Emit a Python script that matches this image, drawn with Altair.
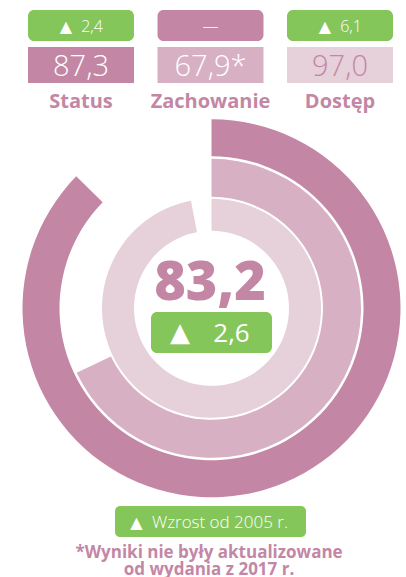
import math
import altair as alt
import pandas as pd

# ---- data ----
categories = ["Status", "Zachowanie", "Dostęp"]
scores = [87.3, 67.9, 97.0]
changes = [2.4, None, 6.1]
value_suffix = ["", "*", ""]
overall_score = [83.2]
overall_change = [2.6]
legend_text = ["Wzrost od 2005 r."]
footnote_lines = ["*Wyniki nie były aktualizowane", "od wydania z 2017 r."]
TRI = "▲"

# ---- styles ----
ring_colors = ["#C387A5", "#D8B0C4", "#E6D0DA"]
value_text_colors = ["#FFFFFF", "#FFFFFF", "#C387A5"]
GREEN = "#85C65A"
PINK = "#C387A5"
FONT = "Open Sans"
FONT_TRI = "DejaVu Sans"
CX, CY = 211.5, 308.3
ring_radii = [(152, 189), (111.5, 149.5), (77.5, 109.5)]

df = pd.DataFrame({"cat": categories, "score": scores, "change": changes,
                   "suffix": value_suffix, "start": [0.0] * len(categories)})

theta_scale = alt.Scale(domain=[0, 100], range=[0, 2 * math.pi])
layers = []
for cat, color, (r_in, r_out) in zip(categories, ring_colors, ring_radii):
    layers.append(
        alt.Chart(df).transform_filter(alt.datum.cat == cat)
        .mark_arc(radius=r_out, radius2=r_in, color=color)
        .encode(theta=alt.Theta("start:Q", scale=theta_scale, stack=None),
                theta2="score:Q", x=alt.value(CX), y=alt.value(CY))
    )

x_band = alt.X("cat:N", scale=alt.Scale(type="band", domain=categories, range=[28, 393],
                                       paddingInner=0.1815, paddingOuter=0), axis=None)

valid = alt.expr.isValid(alt.datum.change)
delta_box = alt.Chart(df).mark_rect(cornerRadius=6).encode(
    x=x_band, y=alt.value(10), y2=alt.value(41),
    color=alt.when(valid).then(alt.value(GREEN)).otherwise(alt.value(PINK)))
delta_tri = alt.Chart(df).transform_filter(valid).transform_calculate(lab=f"'{TRI}'").mark_text(
    font=FONT_TRI, fontSize=16, color="white", baseline="alphabetic", dx=-15).encode(
    x=x_band, y=alt.value(32), text="lab:N")
delta_num = alt.Chart(df).transform_filter(valid).transform_calculate(
    lab="replace(format(datum.change, '.1f'), '.', ',')"
).mark_text(font=FONT, fontSize=16, fontWeight=300, color="white", baseline="alphabetic", dx=11).encode(
    x=x_band, y=alt.value(32), text="lab:N")
delta_none = alt.Chart(df).transform_filter(~valid).transform_calculate(lab="'—'").mark_text(
    font=FONT, fontSize=16, fontWeight=300, color="white", baseline="alphabetic").encode(
    x=x_band, y=alt.value(32), text="lab:N")

value_box = alt.Chart(df).mark_rect().encode(
    x=x_band, y=alt.value(47), y2=alt.value(83),
    color=alt.Color("cat:N", scale=alt.Scale(domain=categories, range=ring_colors), legend=None))
value_text = alt.Chart(df).transform_calculate(
    lab="replace(format(datum.score, '.1f'), '.', ',') + datum.suffix"
).mark_text(font=FONT, fontSize=29, fontWeight=300, baseline="alphabetic").encode(
    x=x_band, y=alt.value(76), text="lab:N",
    color=alt.Color("cat:N", scale=alt.Scale(domain=categories, range=value_text_colors), legend=None))
cat_text = alt.Chart(df).mark_text(font=FONT, fontSize=20, fontWeight="bold", color=PINK,
                                   baseline="alphabetic").encode(
    x=x_band, y=alt.value(108), text="cat:N")

center_df = pd.DataFrame({"score": overall_score, "change": overall_change})
center_text = alt.Chart(center_df).transform_calculate(
    lab="replace(format(datum.score, '.1f'), '.', ',')"
).mark_text(font=FONT, fontSize=54, fontWeight=800, color=PINK, baseline="alphabetic").encode(
    x=alt.value(210), y=alt.value(300), text="lab:N")
center_box = alt.Chart(center_df).mark_rect(cornerRadius=6, color=GREEN).encode(
    x=alt.value(151), x2=alt.value(272), y=alt.value(312), y2=alt.value(353))
center_tri = alt.Chart(center_df).transform_calculate(lab=f"'{TRI}'").mark_text(
    font=FONT_TRI, fontSize=26, color="white", baseline="alphabetic").encode(
    x=alt.value(180), y=alt.value(341), text="lab:N")
center_delta = alt.Chart(center_df).transform_calculate(
    lab="replace(format(datum.change, '.1f'), '.', ',')"
).mark_text(font=FONT, fontSize=26, color="white", baseline="alphabetic").encode(
    x=alt.value(231.5), y=alt.value(342), text="lab:N")

legend_df = pd.DataFrame({"t": legend_text})
legend_box = alt.Chart(legend_df).mark_rect(cornerRadius=5, color=GREEN).encode(
    x=alt.value(115), x2=alt.value(306), y=alt.value(506), y2=alt.value(537))
legend_tri = alt.Chart(legend_df).transform_calculate(lab=f"'{TRI}'").mark_text(
    font=FONT_TRI, fontSize=16, color="white", baseline="alphabetic").encode(
    x=alt.value(136.5), y=alt.value(528), text="lab:N")
legend_lab = alt.Chart(legend_df).mark_text(font=FONT, fontSize=17, fontWeight=300, color="white",
                                            baseline="alphabetic", align="left").encode(
    x=alt.value(152), y=alt.value(528), text="t:N")

foot_df = pd.DataFrame({"line": footnote_lines, "i": list(range(len(footnote_lines)))})
foot = alt.Chart(foot_df).mark_text(font=FONT, fontSize=17, fontWeight="bold", color=PINK,
                                    baseline="alphabetic").encode(
    x=alt.value(209),
    y=alt.Y("i:O", scale=alt.Scale(type="point", domain=[0, 1], range=[558, 575], padding=0), axis=None),
    text="line:N")

chart = alt.layer(
    *layers, delta_box, delta_tri, delta_num, delta_none, value_box, value_text, cat_text,
    center_text, center_box, center_tri, center_delta, legend_box, legend_tri, legend_lab, foot
).resolve_scale(color="independent").properties(
    width=406, height=577, autosize=alt.AutoSizeParams(type="none"), padding=0,
    background="white"
).configure_view(stroke=None)

chart.save("out.html", embed_options={"renderer": "svg", "actions": False})
